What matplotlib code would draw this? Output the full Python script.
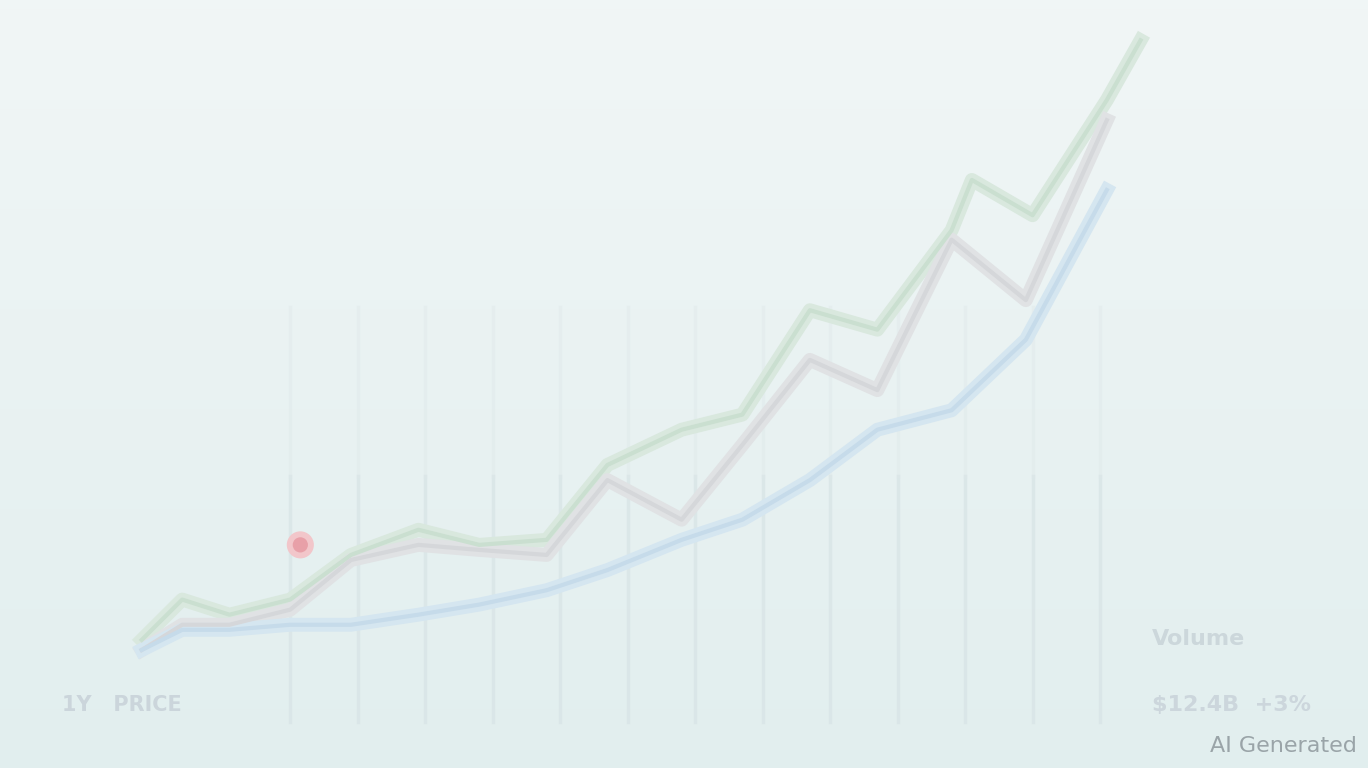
import numpy as np
import matplotlib.pyplot as plt

# blurred multi-line growth chart
x_green = [-2.2, -1.6, -0.9, 0, 0.9, 1.9, 2.8, 3.8, 4.7, 5.8, 6.7, 7.7, 8.7, 9.8, 10.1, 11.0, 12.1, 12.6]
green = [11.1, 16.7, 14.6, 16.7, 22.9, 26.4, 24.3, 25.0, 35.4, 40.3, 42.4, 56.9, 54.2, 68.0, 75.0, 70.1, 86.1, 94.4]

x_main = [-2.2, -1.6, -0.9, 0, 0.9, 1.9, 2.8, 3.8, 4.7, 5.8, 6.7, 7.7, 8.7, 9.8, 10.9, 12.1]
gray = [9.7, 13.2, 13.2, 15.3, 22.2, 24.3, 23.6, 22.9, 33.3, 27.8, 38.2, 50.0, 45.8, 66.7, 58.3, 83.3]
blue = [9.7, 12.5, 12.5, 13.2, 13.2, 14.6, 16.0, 18.0, 20.8, 25.0, 27.8, 33.3, 40.3, 43.0, 52.8, 73.6]

grid_x = np.arange(0, 13)
marker_x, marker_y = 0.15, 24.3

fig = plt.figure(figsize=(13.68, 7.68), dpi=100)
ax = fig.add_axes([0, 0, 1, 1])
ax.set_xlim(-4.3, 15.97)
ax.set_ylim(-6.7, 100)

# soft background gradient
grad = np.linspace(0, 1, 256).reshape(-1, 1)
top = np.array([0.945, 0.965, 0.965])
bot = np.array([0.885, 0.935, 0.935])
img = top[None, None, :] * (1 - grad[..., None]) + bot[None, None, :] * grad[..., None]
ax.imshow(img, extent=[-4.3, 15.97, -6.7, 100], origin='upper', aspect='auto', zorder=0)

for gx in grid_x:
    ax.axvline(gx, ymin=0.06, ymax=0.38, color='#d8e4e6', lw=2.5, alpha=0.75, zorder=1)
    ax.axvline(gx, ymin=0.38, ymax=0.6, color='#dfe9ea', lw=2.5, alpha=0.45, zorder=1)

ax.plot(x_green, green, color='#d9e8de', lw=10, solid_joinstyle='round', zorder=3)
ax.plot(x_main, gray, color='#e0e2e4', lw=10, solid_joinstyle='round', zorder=3)
ax.plot(x_main, blue, color='#d5e6f0', lw=10, solid_joinstyle='round', zorder=3)
ax.plot(x_green, green, color='#cadfd0', lw=3, zorder=4)
ax.plot(x_main, gray, color='#d5d7da', lw=3, zorder=4)
ax.plot(x_main, blue, color='#c6dbea', lw=3, zorder=4)

ax.scatter([marker_x], [marker_y], s=380, color='#f2c6ca', edgecolor='none', zorder=5)
ax.scatter([marker_x], [marker_y], s=120, color='#e8a0a8', edgecolor='none', zorder=6)

# faint labels
ax.text(0.045, 0.082, '1Y   PRICE', transform=ax.transAxes, fontsize=15,
        color='#cbd5db', fontweight='bold', va='center')
ax.text(0.842, 0.168, 'Volume', transform=ax.transAxes, fontsize=16,
        color='#ccd7db', fontweight='bold', va='center')
ax.text(0.842, 0.082, '$12.4B  +3%', transform=ax.transAxes, fontsize=16,
        color='#ccd6dc', fontweight='bold', va='center')

ax.text(0.992, 0.029, 'AI Generated', transform=ax.transAxes, fontsize=16,
        color='#9aa4a8', ha='right', va='center')

ax.axis('off')
fig.savefig('out.png', dpi=100)
